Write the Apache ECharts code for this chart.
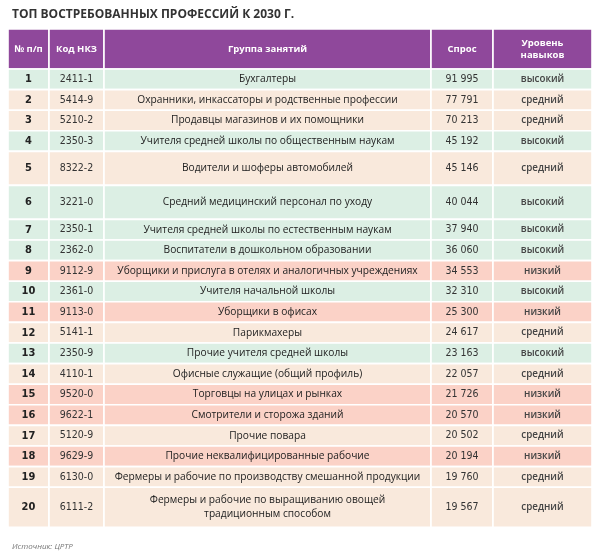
<!DOCTYPE html>
<html>
<head>
<meta charset="utf-8">
<script src="https://cdn.jsdelivr.net/npm/echarts@6/dist/echarts.min.js"></script>
<style>
html,body{margin:0;padding:0;background:#fff;}
#chart{width:602px;height:559px;}
</style>
</head>
<body>
<div id="chart"></div>
<script>
// ---- DATA ----
const headers = ['№ п/п', 'Код НКЗ', 'Группа занятий', 'Спрос', 'Уровень\nнавыков'];
const ranks = [1,2,3,4,5,6,7,8,9,10,11,12,13,14,15,16,17,18,19,20];
const codes = ['2411-1','5414-9','5210-2','2350-3','8322-2','3221-0','2350-1','2362-0','9112-9','2361-0',
               '9113-0','5141-1','2350-9','4110-1','9520-0','9622-1','5120-9','9629-9','6130-0','6111-2'];
const groups = [
  'Бухгалтеры',
  'Охранники, инкассаторы и родственные профессии',
  'Продавцы магазинов и их помощники',
  'Учителя средней школы по общественным наукам',
  'Водители и шоферы автомобилей',
  'Средний медицинский персонал по уходу',
  'Учителя средней школы по естественным наукам',
  'Воспитатели в дошкольном образовании',
  'Уборщики и прислуга в отелях и аналогичных учреждениях',
  'Учителя начальной школы',
  'Уборщики в офисах',
  'Парикмахеры',
  'Прочие учителя средней школы',
  'Офисные служащие (общий профиль)',
  'Торговцы на улицах и рынках',
  'Смотрители и сторожа зданий',
  'Прочие повара',
  'Прочие неквалифицированные рабочие',
  'Фермеры и рабочие по производству смешанной продукции',
  'Фермеры и рабочие по выращиванию овощей\nтрадиционным способом'
];
const demand = [91995,77791,70213,45192,45146,40044,37940,36060,34553,32310,
                25300,24617,23163,22057,21726,20570,20502,20194,19760,19567];
const levels = ['высокий','средний','средний','высокий','средний','высокий','высокий','высокий','низкий','высокий',
                'низкий','средний','высокий','средний','низкий','низкий','средний','низкий','средний','средний'];
const titleText = 'ТОП ВОСТРЕБОВАННЫХ ПРОФЕССИЙ К 2030 Г.';
const sourceText = 'Источник: ЦРТР';

// ---- LAYOUT / STYLE ----
const colWidths = [41, 55, 327, 62, 99];
const headerHeight = 40;
const normalRow = 20.6;
const tallRowHeights = {5: 34, 6: 34, 20: 40};
const levelColors = {'высокий': '#dcefe4', 'средний': '#f9e9dc', 'низкий': '#fbd2c7'};
const headerColor = '#8f489b';
const numFont = '"Liberation Sans Narrow", "DejaVu Sans Condensed", "Noto Sans", sans-serif';
const textFont = '"Open Sans", "Noto Sans", sans-serif';

const colStart = [0];
colWidths.forEach(w => colStart.push(colStart[colStart.length - 1] + w));
const totalW = colStart[colStart.length - 1];

const rowBounds = [];
let yAcc = headerHeight;
ranks.forEach(r => {
  const h = tallRowHeights[r] || normalRow;
  rowBounds.push([yAcc, yAcc + h]);
  yAcc += h;
});
const totalH = yAcc;

function fmt(n) {
  const s = String(n);
  return s.slice(0, s.length - 3) + ' ' + s.slice(-3);
}

const bodyData = ranks.map((r, i) => [i, rowBounds[i][0], rowBounds[i][1]]);

function cellRect(api, c, y0, y1) {
  const p0 = api.coord([colStart[c], y0]);
  const p1 = api.coord([colStart[c + 1], y1]);
  return {x: p0[0], y: p0[1], w: p1[0] - p0[0], h: p1[1] - p0[1]};
}

function renderHeader(params, api) {
  const children = [];
  for (let c = 0; c < headers.length; c++) {
    const r = cellRect(api, c, 0, headerHeight);
    children.push({type: 'rect', shape: {x: r.x, y: r.y, width: r.w, height: r.h},
      style: {fill: headerColor, stroke: '#fff', lineWidth: 1.6}});
    children.push({type: 'text', style: {
      text: headers[c], x: r.x + r.w / 2, y: r.y + r.h / 2, align: 'center', verticalAlign: 'middle',
      fill: '#fff', fontFamily: textFont, fontWeight: 'bold', fontSize: 9.5, lineHeight: 12}});
  }
  return {type: 'group', children};
}

function renderBody(params, api) {
  const i = api.value(0);
  const y0 = api.value(1), y1 = api.value(2);
  const fill = levelColors[levels[i]];
  const cells = [
    {text: String(ranks[i]), font: numFont, weight: 'bold', size: 11, color: '#222'},
    {text: codes[i], font: numFont, weight: 'normal', size: 10.5, color: '#333'},
    {text: groups[i], font: textFont, weight: 'normal', size: 10.2, color: '#222'},
    {text: fmt(demand[i]), font: numFont, weight: 'normal', size: 10.5, color: '#333'},
    {text: levels[i], font: textFont, weight: 600, size: 9.8, color: '#454545'}
  ];
  const children = [];
  cells.forEach((cell, c) => {
    const r = cellRect(api, c, y0, y1);
    children.push({type: 'rect', shape: {x: r.x, y: r.y, width: r.w, height: r.h},
      style: {fill: fill, stroke: '#fff', lineWidth: 1.6}});
    children.push({type: 'text', style: {
      text: cell.text, x: r.x + r.w / 2, y: r.y + r.h / 2, align: 'center', verticalAlign: 'middle',
      fill: cell.color, fontFamily: cell.font, fontWeight: cell.weight, fontSize: cell.size, lineHeight: 14}});
  });
  return {type: 'group', children};
}

const chart = echarts.init(document.getElementById('chart'), null, {renderer: 'canvas'});
chart.setOption({
  backgroundColor: '#fff',
  animation: false,
  title: [
    {text: titleText, left: 7, top: 4,
     textStyle: {fontFamily: textFont, fontWeight: 'bold', fontSize: 12, color: '#333'}},
    {text: sourceText, left: 7, top: 538,
     textStyle: {fontFamily: textFont, fontStyle: 'italic', fontWeight: 'normal', fontSize: 8, color: '#777'}}
  ],
  grid: {left: 8, right: 10, top: 29, bottom: 559 - 29 - totalH, containLabel: false},
  xAxis: {type: 'value', min: 0, max: totalW, show: false},
  yAxis: {type: 'value', min: 0, max: totalH, inverse: true, show: false},
  series: [
    {type: 'custom', renderItem: renderHeader, data: [[0]], silent: true, clip: false},
    {type: 'custom', renderItem: renderBody, data: bodyData, silent: true, clip: false,
     encode: {x: -1, y: [1, 2]}}
  ]
});
</script>
</body>
</html>
